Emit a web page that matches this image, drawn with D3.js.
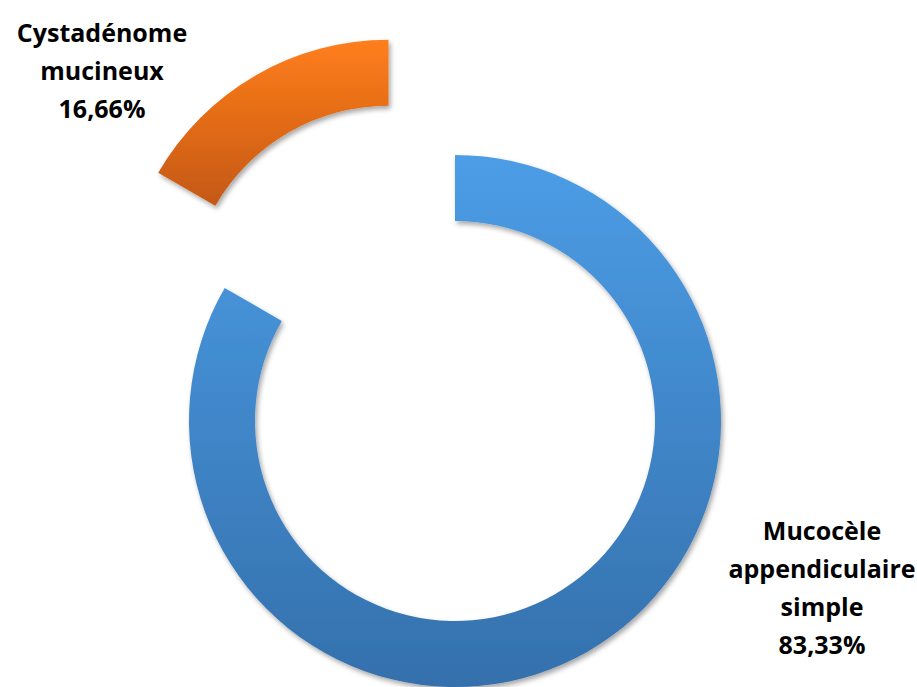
<!DOCTYPE html>
<html>
<head>
<meta charset="utf-8">
<script src="https://cdn.jsdelivr.net/npm/d3@7/dist/d3.min.js"></script>
<style>
  html, body { margin: 0; padding: 0; background: #fff; }
  svg { display: block; }
  text { font-family: "Open Sans", "Liberation Sans", sans-serif; font-weight: bold; fill: #000; }
</style>
</head>
<body>
<svg id="chart" width="917" height="687"></svg>
<script>
// Répartition des mucocèles appendiculaires
const categories = ["Mucocèle appendiculaire simple", "Cystadénome mucineux"];
const values = [83.33, 16.66];
const valueLabels = ["83,33%", "16,66%"];
const labelLines = [
  ["Mucocèle", "appendiculaire", "simple"],
  ["Cystadénome", "mucineux"]
];
const colorsTop = ["#4C9DE6", "#FF7E1C"];
const colorsBottom = ["#3470AC", "#C45812"];
const explode = [0, 133];

const svg = d3.select("#chart");
const cx = 455, cy = 421, outerR = 266, innerR = 200;

const defs = svg.append("defs");
categories.forEach((c, i) => {
  const g = defs.append("linearGradient")
    .attr("id", "grad" + i)
    .attr("x1", 0).attr("y1", 0).attr("x2", 0).attr("y2", 1);
  g.append("stop").attr("offset", "0%").attr("stop-color", colorsTop[i]);
  g.append("stop").attr("offset", "100%").attr("stop-color", colorsBottom[i]);
});
const shadow = defs.append("filter").attr("id", "shadow")
  .attr("x", "-10%").attr("y", "-10%").attr("width", "130%").attr("height", "130%");
shadow.append("feDropShadow")
  .attr("dx", 2).attr("dy", 3).attr("stdDeviation", 2.5)
  .attr("flood-color", "#000").attr("flood-opacity", 0.35);

const pie = d3.pie().sort(null).value(d => d);
const arcs = pie(values);
const arc = d3.arc().innerRadius(innerR).outerRadius(outerR);

const g = svg.append("g").attr("transform", `translate(${cx},${cy})`);
g.selectAll("path.slice")
  .data(arcs)
  .join("path")
  .attr("class", "slice")
  .attr("d", arc)
  .attr("fill", (d, i) => `url(#grad${i})`)
  .attr("filter", "url(#shadow)")
  .attr("transform", (d, i) => {
    const a = (d.startAngle + d.endAngle) / 2;
    return `translate(${Math.sin(a) * explode[i]},${-Math.cos(a) * explode[i]})`;
  });

// Étiquettes
const labelPos = [
  { x: 102, y: 42 }
];
labelPos.unshift({ x: 822, y: 540 });
const lineH = 38;
categories.forEach((c, i) => {
  const lines = labelLines[i].concat([valueLabels[i]]);
  const t = svg.append("text")
    .attr("text-anchor", "middle")
    .attr("font-size", 25);
  lines.forEach((s, k) => {
    t.append("tspan")
      .attr("x", labelPos[i].x)
      .attr("y", labelPos[i].y + k * lineH)
      .text(s);
  });
});
</script>
</body>
</html>
